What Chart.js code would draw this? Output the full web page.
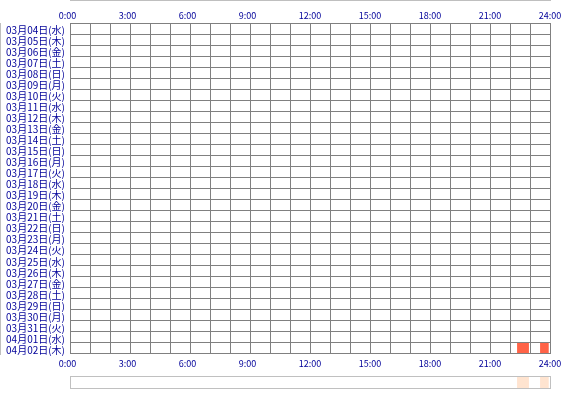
<!DOCTYPE html>
<html>
<head>
<meta charset="utf-8">
<script src="https://cdn.jsdelivr.net/npm/chart.js@4"></script>
<style>
  html, body { margin: 0; padding: 0; background: #ffffff; }
  #wrap { position: relative; width: 570px; height: 400px; background: #ffffff; }
  #mainChart { position: absolute; left: 0; top: 0; }
  #stripChart { position: absolute; left: 0; top: 372px; }
</style>
</head>
<body>
<div id="wrap">
  <canvas id="mainChart" width="570" height="372"></canvas>
  <canvas id="stripChart" width="570" height="28"></canvas>
</div>
<script>
const dayLabels = [
    '03月04日(水)', '03月05日(木)', '03月06日(金)', '03月07日(土)', '03月08日(日)',
    '03月09日(月)', '03月10日(火)', '03月11日(水)', '03月12日(木)', '03月13日(金)',
    '03月14日(土)', '03月15日(日)', '03月16日(月)', '03月17日(火)', '03月18日(水)',
    '03月19日(木)', '03月20日(金)', '03月21日(土)', '03月22日(日)', '03月23日(月)',
    '03月24日(火)', '03月25日(水)', '03月26日(木)', '03月27日(金)', '03月28日(土)',
    '03月29日(日)', '03月30日(月)', '03月31日(火)', '04月01日(水)', '04月02日(木)'
];

// activity sessions (hours of day)
const sessionDays = ['04月02日(木)', '04月02日(木)'];
const sessionStarts = [22.37, 23.52];
const sessionEnds = [22.93, 23.92];

const hourTicks = [0, 3, 6, 9, 12, 15, 18, 21, 24];

const labelColor = '#000099';
const gridColor = '#808080';
const fontFamily = '"Noto Sans CJK JP", "Noto Sans", sans-serif';

function hourLabel(value) {
    if (!hourTicks.includes(value)) return '';
    // trailing figure space: single-digit hours sit left like the original
    return value + ':00' + (value < 10 ? '\u2007' : '');
}

const sessionData = sessionDays.map((day, i) => ({ y: day, x: [sessionStarts[i], sessionEnds[i]] }));
const stripData = sessionDays.map((day, i) => ({ y: 'all', x: [sessionStarts[i], sessionEnds[i]] }));

const hourAxis = (position, height, padding) => ({
    type: 'linear',
    position: position,
    min: 0,
    max: 24,
    ticks: {
        stepSize: 1,
        autoSkip: false,
        maxRotation: 0,
        padding: padding,
        color: labelColor,
        font: { family: fontFamily, size: 9 },
        callback: hourLabel
    },
    grid: {
        color: gridColor,
        drawTicks: false,
        drawOnChartArea: position === 'bottom',
        z: 1
    },
    border: { display: position === 'bottom', color: gridColor },
    afterFit: (scale) => { scale.height = height; }
});

new Chart(document.getElementById('mainChart').getContext('2d'), {
    type: 'bar',
    data: {
        datasets: [{
            data: sessionData,
            backgroundColor: '#FF6347',
            borderWidth: 0,
            categoryPercentage: 1,
            barPercentage: 1,
            xAxisID: 'x',
            yAxisID: 'y'
        }]
    },
    options: {
        indexAxis: 'y',
        responsive: false,
        animation: false,
        layout: { padding: { left: 0, right: 20, top: 0, bottom: 0 } },
        plugins: { legend: { display: false }, tooltip: { enabled: false } },
        scales: {
            x: hourAxis('bottom', 18, 4),
            xTop: hourAxis('top', 23, 2),
            y: {
                type: 'category',
                labels: dayLabels,
                offset: true,
                ticks: {
                    autoSkip: false,
                    padding: 5,
                    color: labelColor,
                    // empty first line nudges the label a little below the row centre
                    font: { family: fontFamily, size: 10, lineHeight: '3px' },
                    callback: (value, index) => ['', dayLabels[index]]
                },
                grid: { offset: true, color: gridColor, drawTicks: false, z: 1 },
                border: { color: gridColor },
                afterFit: (scale) => { scale.width = 70; }
            }
        }
    }
});

const stripBorder = '#c0c0c0';
const stripAxis = (type, position, size) => ({
    type: type,
    position: position,
    min: type === 'linear' ? 0 : undefined,
    max: type === 'linear' ? 24 : undefined,
    labels: type === 'category' ? ['all'] : undefined,
    ticks: { display: false },
    grid: { display: false, drawTicks: false },
    border: { color: stripBorder, z: 1 },
    afterFit: (scale) => {
        if (type === 'linear') scale.height = size; else scale.width = size;
    }
});

new Chart(document.getElementById('stripChart').getContext('2d'), {
    type: 'bar',
    data: {
        datasets: [{
            data: stripData,
            backgroundColor: '#FFE4D0',
            borderWidth: 0,
            categoryPercentage: 1,
            barPercentage: 1,
            xAxisID: 'x',
            yAxisID: 'y'
        }]
    },
    options: {
        indexAxis: 'y',
        responsive: false,
        animation: false,
        layout: { padding: 0 },
        plugins: { legend: { display: false }, tooltip: { enabled: false } },
        scales: {
            x: stripAxis('linear', 'bottom', 12),
            xTop: stripAxis('linear', 'top', 4),
            y: stripAxis('category', 'left', 70),
            yRight: stripAxis('category', 'right', 20)
        }
    }
});
</script>
</body>
</html>
